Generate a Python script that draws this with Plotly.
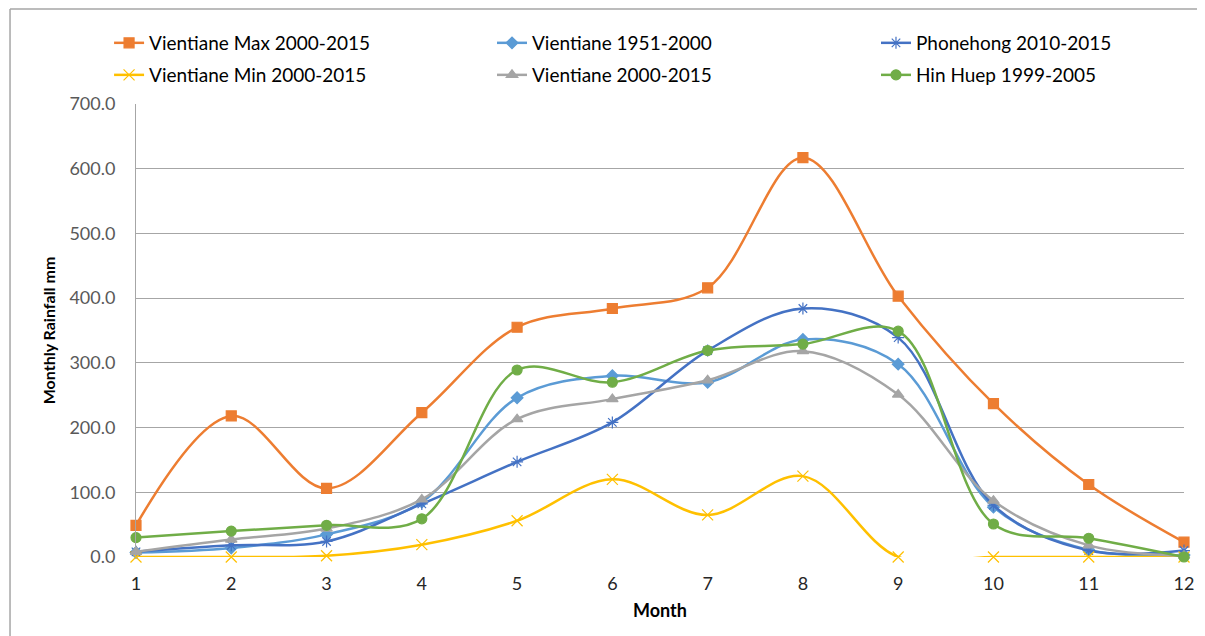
import plotly.graph_objects as go

months = list(range(1, 13))
month_labels = [str(m) for m in months]

vientiane_max = [49, 218, 106, 223, 355, 384, 416, 617, 403, 237, 112, 23]
vientiane_1951_2000 = [7, 14, 35, 85, 246, 280, 270, 336, 298, 77, 11, 3]
phonehong = [8, 18, 24, 82, 147, 208, 319, 384, 339, 80, 10, 10]
vientiane_min = [0, 0, 2, 19, 56, 120, 65, 125, 0, 0, 0, 0]
vientiane_2000_2015 = [8, 27, 44, 89, 213, 244, 273, 318, 251, 87, 18, 2]
hin_huep = [30, 40, 49, 59, 289, 270, 319, 329, 349, 51, 29, 0]

y_ticks = [0, 100, 200, 300, 400, 500, 600, 700]

series = [
    ("Vientiane Max 2000-2015", vientiane_max, "#ED7D31", "square", 10),
    ("Vientiane 1951-2000", vientiane_1951_2000, "#5B9BD5", "diamond", 9),
    ("Phonehong 2010-2015", phonehong, "#4472C4", "asterisk-open", 10),
    ("Vientiane Min 2000-2015", vientiane_min, "#FFC000", "x-thin-open", 11),
    ("Vientiane 2000-2015", vientiane_2000_2015, "#A5A5A5", "triangle-up", 10),
    ("Hin Huep 1999-2005", hin_huep, "#70AD47", "circle", 10),
]

# one legend per entry: 3 columns x 2 rows
legend_ids = ["legend", "legend2", "legend3", "legend4", "legend5", "legend6"]
col_x = [-0.0257, 0.3397, 0.7061]
row_y = [1.1347, 1.064]

fig = go.Figure()
for i, (name, vals, color, sym, size) in enumerate(series):
    fig.add_trace(go.Scatter(
        x=months, y=vals, name=name, mode="lines+markers", legend=legend_ids[i],
        line=dict(color=color, width=2.5, shape="spline", smoothing=1.0),
        marker=dict(symbol=sym, size=size, color=color,
                    line=dict(color=color, width=1.2)),
        cliponaxis=False,
    ))

font_family = "Lato, 'Open Sans', sans-serif"

legends = {}
for i, lid in enumerate(legend_ids):
    legends[lid] = dict(
        orientation="v", xanchor="left", yanchor="middle",
        x=col_x[i % 3], y=row_y[i // 3],
        font=dict(size=19, color="#000000"),
        bgcolor="rgba(0,0,0,0)",
    )

fig.update_layout(
    width=1197, height=628,
    margin=dict(l=128, r=21, t=96, b=79),
    paper_bgcolor="white", plot_bgcolor="white",
    font=dict(family=font_family, size=16, color="#404040"),
    showlegend=True,
    **legends,
    xaxis=dict(
        range=[1, 12], tickmode="array", tickvals=months, ticktext=month_labels,
        showgrid=False, showline=False, zeroline=False,
        ticks="", ticklabelstandoff=14, tickfont=dict(size=18, color="#262626"),
        title=dict(text="<b>Month</b>", font=dict(size=18, color="#000000"), standoff=11),
    ),
    yaxis=dict(
        range=[0, 700], tickmode="array", tickvals=y_ticks,
        ticktext=[f"{v:.1f}" for v in y_ticks],
        showgrid=True, gridcolor="#A6A6A6", gridwidth=1,
        showline=True, linecolor="#A6A6A6", linewidth=1,
        zeroline=False, ticks="", ticklen=0, ticklabelstandoff=16,
        tickfont=dict(size=18, color="#595959"),
        title=dict(text="<b>Monthly Rainfall mm</b>", font=dict(size=16, color="#000000"), standoff=9),
    ),
    shapes=[
        dict(type="line", xref="paper", yref="paper", x0=-0.1202, x1=1.02,
             y0=1.2097, y1=1.2097, line=dict(color="#A6A6A6", width=1.5)),
        dict(type="line", xref="paper", yref="paper", x0=-0.1202, x1=-0.1202,
             y0=1.2097, y1=-0.18, line=dict(color="#A6A6A6", width=1.5)),
    ],
)

fig.write_html("out.html")
